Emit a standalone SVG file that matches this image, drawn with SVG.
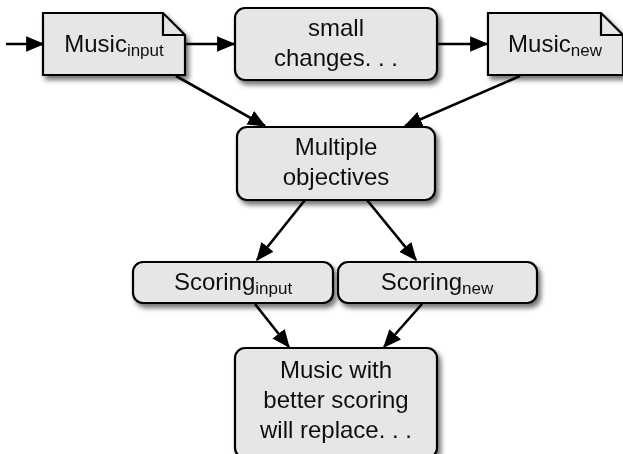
<svg xmlns="http://www.w3.org/2000/svg" width="623" height="454" viewBox="0 0 623 454">
<defs>
<filter id="sh" x="-20%" y="-20%" width="140%" height="150%">
<feGaussianBlur in="SourceAlpha" stdDeviation="2.5"/>
<feOffset dx="3" dy="4" result="b"/>
<feComponentTransfer><feFuncA type="linear" slope="0.55"/></feComponentTransfer>
<feMerge><feMergeNode/><feMergeNode in="SourceGraphic"/></feMerge>
</filter>
<marker id="ah" markerWidth="7" markerHeight="6" refX="6.5" refY="3" orient="auto" markerUnits="strokeWidth">
<path d="M0,0 L7,3 L0,6 Z" fill="#000"/>
</marker>
</defs>
<style>
.box{fill:#e6e6e6;stroke:#000;stroke-width:2.2}
.fold{fill:none;stroke:#000;stroke-width:2.2}
.t{font-family:"Liberation Sans",Arial,sans-serif;font-size:24px;fill:#111;text-anchor:middle}
.s{font-size:17px}
.c{stroke:#000;stroke-width:2.6;fill:none;marker-end:url(#ah)}
</style>
<g id="connectors">
<line class="c" x1="6" y1="44" x2="43" y2="44"/>
<line class="c" x1="185" y1="44" x2="234" y2="44"/>
<line class="c" x1="437" y1="44" x2="487" y2="44"/>
<line class="c" x1="176" y1="76" x2="265" y2="126"/>
<line class="c" x1="520" y1="76" x2="405" y2="126"/>
<line class="c" x1="305" y1="200" x2="257" y2="260"/>
<line class="c" x1="367" y1="200" x2="416" y2="260"/>
<line class="c" x1="255" y1="304" x2="289" y2="347"/>
<line class="c" x1="422" y1="304" x2="384" y2="347"/>
</g>
<g id="music-input" filter="url(#sh)">
<path class="box" d="M43,13 H163 L185,35 V75 H43 Z"/>
<path class="fold" d="M163,13 V35 H185"/>
<text class="t" x="114" y="52">Music<tspan class="s" dy="4">input</tspan></text>
</g>
<g id="small-changes" filter="url(#sh)">
<rect class="box" x="235" y="8" width="202" height="72" rx="10"/>
<text class="t" x="336" y="36">small</text>
<text class="t" x="336" y="66">changes. . .</text>
</g>
<g id="music-new" filter="url(#sh)">
<path class="box" d="M488,13 H601 L623,35 V75 H488 Z"/>
<path class="fold" d="M601,13 V35 H623"/>
<text class="t" x="555" y="52">Music<tspan class="s" dy="4">new</tspan></text>
</g>
<g id="multiple-objectives" filter="url(#sh)">
<rect class="box" x="237" y="127" width="198" height="73" rx="10"/>
<text class="t" x="336" y="155">Multiple</text>
<text class="t" x="336" y="185">objectives</text>
</g>
<g id="scoring-input" filter="url(#sh)">
<rect class="box" x="133" y="262" width="200" height="41" rx="10"/>
<text class="t" x="233" y="290">Scoring<tspan class="s" dy="4">input</tspan></text>
</g>
<g id="scoring-new" filter="url(#sh)">
<rect class="box" x="338" y="262" width="199" height="41" rx="10"/>
<text class="t" x="437" y="290">Scoring<tspan class="s" dy="4">new</tspan></text>
</g>
<g id="music-with" filter="url(#sh)">
<rect class="box" x="235" y="348" width="202" height="110" rx="10"/>
<text class="t" x="336" y="378">Music with</text>
<text class="t" x="336" y="408">better scoring</text>
<text class="t" x="336" y="438">will replace. . .</text>
</g>
</svg>
